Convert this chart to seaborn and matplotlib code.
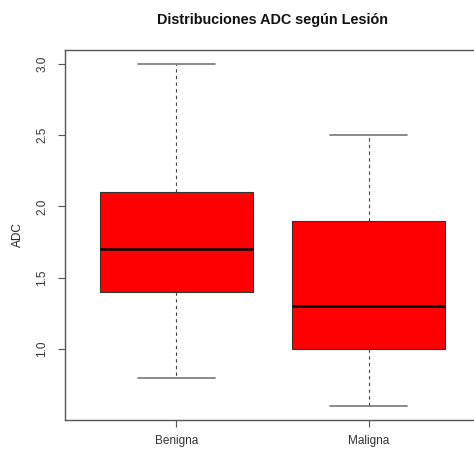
import numpy as np
import pandas as pd
import matplotlib
matplotlib.use("Agg")
import matplotlib.pyplot as plt
import seaborn as sns

categories = ["Benigna", "Maligna"]
benigna_values = [0.8, 1.4, 1.7, 2.1, 3.0]
maligna_values = [0.6, 1.0, 1.3, 1.9, 2.5]
y_ticks = [1.0, 1.5, 2.0, 2.5, 3.0]
title = "Distribuciones ADC según Lesión"
y_label = "ADC"

df = pd.DataFrame({
    "Lesion": [categories[0]] * len(benigna_values) + [categories[1]] * len(maligna_values),
    "ADC": benigna_values + maligna_values,
})

sns.set_theme(style="white")
plt.rcParams["font.family"] = ["Liberation Sans", "DejaVu Sans"]

fig = plt.figure(figsize=(4.74, 4.49), dpi=100)
ax = fig.add_axes([65 / 474, 1 - 420 / 449, 415 / 474, 370 / 449])

sns.boxplot(
    data=df, x="Lesion", y="ADC", order=categories, ax=ax,
    color="#ff0000", saturation=1, width=0.8, whis=np.inf,
    boxprops=dict(facecolor="#ff0000", edgecolor="#333333", linewidth=0.8),
    medianprops=dict(color="black", linewidth=1.8),
    whiskerprops=dict(color="#444444", linewidth=0.8, linestyle=(0, (3, 3))),
    capprops=dict(color="#777777", linewidth=1.2),
    showfliers=False,
)
# cap widths half the box width
for line in ax.lines:
    xd = line.get_xdata()
    if len(xd) == 2 and xd[0] != xd[1] and line.get_linestyle() == "-" and line.get_color() == "#777777":
        c = (xd[0] + xd[1]) / 2
        line.set_xdata([c - 0.2, c + 0.2])

ax.set_xlim(-0.58, 1.58)
ax.set_ylim(0.504, 3.096)
ax.set_yticks(y_ticks)
ax.set_yticklabels([f"{v:.1f}" for v in y_ticks], rotation=90, va="center")
ax.set_xlabel("")
ax.set_ylabel(y_label, fontsize=8.5, color="#222222", labelpad=9)
ax.set_title(title, fontsize=10.4, fontweight="bold", pad=19, color="#111111")

for s in ["left", "bottom", "top"]:
    ax.spines[s].set_visible(True)
    ax.spines[s].set_color("#555555")
    ax.spines[s].set_linewidth(1.0)
ax.spines["right"].set_visible(False)

ax.tick_params(axis="both", which="both", direction="out", length=5, width=0.8,
               color="#555555", labelsize=8.5, labelcolor="#333333",
               left=True, bottom=True)
ax.tick_params(axis="x", pad=6)
ax.tick_params(axis="y", pad=7)

fig.savefig("out.png", dpi=100)
